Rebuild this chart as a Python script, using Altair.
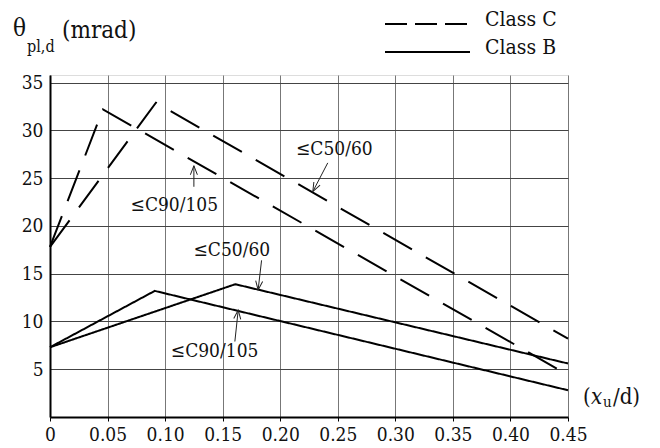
import altair as alt
import pandas as pd
import math

# ---------------- data ----------------
x_ticks = [0, 0.05, 0.10, 0.15, 0.20, 0.25, 0.30, 0.35, 0.40, 0.45]
y_ticks = [5, 10, 15, 20, 25, 30, 35]

classC_c50_x = [0.0, 0.092, 0.45]
classC_c50_y = [17.8, 32.9, 8.2]
classC_c90_x = [0.0, 0.046, 0.45]
classC_c90_y = [17.8, 32.2, 4.4]
classB_c50_x = [0.0, 0.161, 0.45]
classB_c50_y = [7.3, 13.9, 5.6]
classB_c90_x = [0.0, 0.091, 0.45]
classB_c90_y = [7.3, 13.2, 2.8]

ann_text = ["≤C50/60", "≤C90/105", "≤C50/60", "≤C90/105"]
ann_x = [0.247, 0.108, 0.158, 0.143]
ann_y = [28.1, 22.2, 17.5, 6.9]
arrow_x0 = [0.2413, 0.125, 0.1838, 0.1606]
arrow_y0 = [26.6, 24.1, 16.4, 7.9]
arrow_x1 = [0.2283, 0.125, 0.1808, 0.1635]
arrow_y1 = [23.6, 26.3, 13.3, 11.2]

legend_labels = ["Class C", "Class B"]

# ---------------- layout ----------------
W, H = 518, 342
XMAX, YMAX = 0.45, 35.8
FONT = "DejaVu Serif Condensed, DejaVu Serif"

rows = []
for cls, grade, xs_, ys_ in [
    ("Class C", "C50", classC_c50_x, classC_c50_y),
    ("Class C", "C90", classC_c90_x, classC_c90_y),
    ("Class B", "C50", classB_c50_x, classB_c50_y),
    ("Class B", "C90", classB_c90_x, classB_c90_y),
]:
    for i, (x, y) in enumerate(zip(xs_, ys_)):
        rows.append(dict(cls=cls, series=cls + grade, order=i, x=x, y=y))
lines = pd.DataFrame(rows)

angles = []
for a, b, c, d in zip(arrow_x0, arrow_y0, arrow_x1, arrow_y1):
    dx = (c - a) * W / XMAX
    dy = -(d - b) * H / YMAX
    angles.append((math.degrees(math.atan2(dx, -dy)) + 360) % 360)

ann = pd.DataFrame(dict(text=ann_text, x=ann_x, y=ann_y,
                        x0=arrow_x0, y0=arrow_y0, x1=arrow_x1, y1=arrow_y1,
                        angle=angles))

xs = alt.Scale(domain=[0, XMAX], nice=False, zero=False)
ys = alt.Scale(domain=[0, YMAX], nice=False, zero=False)

x_axis = alt.Axis(values=x_ticks, title=None, grid=True, gridColor="#777", gridWidth=1,
                  domainColor="black", domainWidth=2, tickColor="black", tickSize=4,
                  labelFont=FONT, labelFontSize=19, labelColor="#111", labelPadding=4,
                  labelExpr="datum.value == 0 ? '0' : format(datum.value, '.2f')",
                  labelFlush=False, labelOverlap=False)
y_axis = alt.Axis(values=y_ticks, title=None, grid=True, gridColor="#444", gridWidth=1,
                  domainColor="black", domainWidth=2, ticks=False,
                  labelFont=FONT, labelFontSize=19, labelColor="#111", labelPadding=7)

line_layer = alt.Chart(lines).mark_line(color="black", strokeWidth=2, strokeCap="butt").encode(
    x=alt.X("x:Q", scale=xs, axis=x_axis),
    y=alt.Y("y:Q", scale=ys, axis=y_axis),
    detail="series:N",
    order="order:Q",
    strokeDash=alt.StrokeDash("cls:N", scale=alt.Scale(domain=["Class C", "Class B"],
                                                       range=[[33, 16], [1, 0]]), legend=None),
)

arrow_layer = alt.Chart(ann).mark_rule(color="#222", strokeWidth=1).encode(
    x=alt.X("x0:Q", scale=xs), y=alt.Y("y0:Q", scale=ys),
    x2="x1:Q", y2="y1:Q",
)
head_layer = alt.Chart(ann).mark_point(
    shape="M-0.35,0.9L0,0L0.35,0.9", filled=False, color="#222", strokeWidth=1, size=400, opacity=1
).encode(
    x=alt.X("x1:Q", scale=xs), y=alt.Y("y1:Q", scale=ys),
    angle=alt.Angle("angle:Q", scale=None),
)
text_layer = alt.Chart(ann).mark_text(font=FONT, fontSize=19, color="#111",
                                      align="center", baseline="middle").encode(
    x=alt.X("x:Q", scale=xs), y=alt.Y("y:Q", scale=ys), text="text:N",
)

one = pd.DataFrame({"k": [0]})


def label(txt, x, y, size, align="left", style="normal"):
    return alt.Chart(one).mark_text(text=txt, font=FONT, fontSize=size, color="#111",
                                    align=align, baseline="middle", fontStyle=style).encode(
        x=alt.value(x), y=alt.value(y))


deco = [
    label("θ", -37, -46, 24),
    label("pl,d", -23, -28, 16),
    label("(mrad)", 12, -44, 24),
    label("(", 533, 322, 22),
    label("x", 541, 322, 22, style="italic"),
    label("u", 553, 327, 15),
    label("/d)", 563, 322, 22),
    label(legend_labels[0], 435, -55, 21),
    label(legend_labels[1], 435, -27, 21),
    alt.Chart(one).mark_rule(color="black", strokeWidth=2, strokeDash=[22, 8], strokeCap="butt").encode(
        x=alt.value(335), x2=alt.value(420), y=alt.value(-51)),
    alt.Chart(one).mark_rule(color="black", strokeWidth=2).encode(
        x=alt.value(335), x2=alt.value(420), y=alt.value(-23)),
]

chart = alt.layer(line_layer, arrow_layer, head_layer, text_layer, *deco).properties(
    width=W, height=H,
    autosize=alt.AutoSizeParams(type="none"),
    padding={"left": 42, "top": 67, "right": 84, "bottom": 28},
).configure_view(stroke=None).configure(background="white")

chart.save("out.html", embed_options={"renderer": "svg", "actions": False})
